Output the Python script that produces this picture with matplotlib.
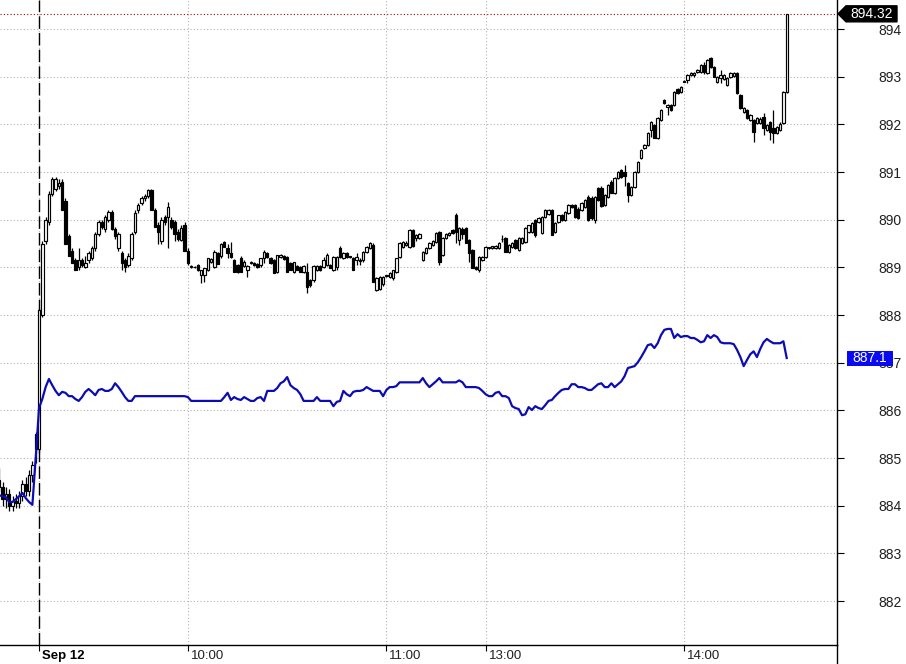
import numpy as np
import matplotlib
matplotlib.use("Agg")
import matplotlib.pyplot as plt
from matplotlib import transforms as mtrans
from matplotlib.patches import Polygon, Rectangle

plt.rcParams['font.family'] = ['Liberation Sans', 'DejaVu Sans']

# ---- data: one-minute bars (index = minute position on the session axis) ----
opens = [
    884.55, 884.40, 884.15, 884.25, 884.00, 884.10, 884.05, 884.20, 884.45, 884.30,
    884.65, 885.50, 885.20, 888.00, 889.55, 889.95, 890.55, 890.65, 890.70, 890.80,
    890.40, 889.65, 889.35, 889.15, 889.00, 889.15, 889.00, 889.15, 889.20, 889.40,
    889.70, 889.95, 889.80, 890.00, 890.16, 889.80, 889.40, 889.30, 889.15, 889.05,
    889.20, 889.75, 890.20, 890.35, 890.45, 890.50, 890.62, 890.20, 889.90, 889.55,
    890.05, 890.05, 890.00, 889.95, 889.75, 889.57, 889.90, 889.35, 889.00, 889.00,
    889.05, 888.84, 888.85, 888.94, 889.12, 889.00, 889.30, 889.25, 889.53, 889.40,
    889.30, 889.15, 889.05, 889.20, 889.02, 888.94, 889.09, 889.10, 889.08, 889.05,
    889.20, 889.30, 889.20, 889.15, 888.90, 889.22, 889.25, 889.22, 889.10, 888.90,
    889.03, 889.00, 888.90, 888.90, 888.73, 888.73, 888.94, 889.04, 889.00, 889.05,
    889.05, 888.94, 889.00, 889.41, 889.20, 889.30, 889.23, 889.20, 889.15, 889.15,
    889.15, 889.32, 889.41, 889.47, 888.52, 888.55, 888.65, 888.82, 888.80, 888.78,
    888.90, 889.22, 889.43, 889.47, 889.43, 889.78, 889.62, 889.62, 889.15, 889.30,
    889.41, 889.47, 889.53, 889.74, 889.26, 889.62, 889.68, 889.78, 890.10, 889.57,
    889.80, 889.83, 889.57, 889.36, 889.01, 888.94, 889.15, 889.22, 889.41, 889.41,
    889.40, 889.41, 889.60, 889.62, 889.32, 889.43, 889.57, 889.36, 889.51, 889.53,
    889.74, 889.74, 889.99, 889.95, 889.72, 890.06, 890.12, 890.20, 889.74, 889.95,
    890.09, 889.99, 890.14, 890.31, 890.31, 890.22, 890.20, 890.27, 890.48, 890.46,
    889.99, 890.66, 890.66, 890.31, 890.48, 890.79, 890.56, 890.87, 891.04, 891.00,
    890.77, 890.52, 890.69, 891.00, 891.29, 891.50, 891.57, 891.88, 891.99, 891.71,
    892.09, 892.51, 892.36, 892.41, 892.41, 892.74, 892.68, 892.90, 892.93, 893.04,
    893.03, 893.10, 893.10, 893.24, 893.08, 893.39, 893.20, 892.89, 892.97, 892.95,
    892.83, 893.00, 893.02, 893.08, 892.62, 892.26, 892.30, 892.09, 892.09, 892.03,
    892.03, 892.15, 891.88, 892.05, 891.92, 891.82, 891.88, 892.03, 892.68,
]
highs = [
    884.80, 884.50, 884.40, 884.35, 884.20, 884.25, 884.30, 884.55, 884.60, 884.75,
    884.95, 885.55, 888.15, 889.55, 890.05, 890.60, 890.90, 890.90, 890.85, 890.85,
    890.45, 889.70, 889.40, 889.20, 889.40, 889.20, 889.25, 889.35, 889.45, 889.75,
    890.00, 890.00, 890.10, 890.20, 890.20, 889.85, 889.75, 889.35, 889.20, 889.30,
    889.75, 890.20, 890.35, 890.50, 890.55, 890.65, 890.65, 890.25, 889.95, 890.05,
    890.10, 890.37, 890.05, 890.00, 889.80, 889.90, 889.95, 889.40, 889.05, 889.03,
    889.08, 888.95, 888.98, 889.20, 889.20, 889.36, 889.32, 889.52, 889.56, 889.50,
    889.53, 889.17, 889.08, 889.25, 889.15, 889.05, 889.13, 889.12, 889.10, 889.20,
    889.36, 889.32, 889.22, 889.18, 889.27, 889.28, 889.27, 889.24, 889.12, 889.12,
    889.05, 889.02, 889.05, 889.10, 888.76, 889.05, 889.06, 889.06, 889.22, 889.30,
    889.08, 889.24, 889.25, 889.45, 889.32, 889.33, 889.25, 889.22, 889.30, 889.20,
    889.34, 889.45, 889.53, 889.52, 888.80, 888.82, 888.82, 888.85, 888.90, 888.95,
    889.20, 889.53, 889.55, 889.55, 889.80, 889.80, 889.70, 889.72, 889.34, 889.43,
    889.53, 889.58, 889.75, 889.76, 889.64, 889.72, 889.75, 889.80, 890.14, 889.85,
    889.85, 889.85, 889.60, 889.38, 889.03, 889.24, 889.24, 889.45, 889.43, 889.46,
    889.47, 889.53, 889.68, 889.64, 889.49, 889.53, 889.60, 889.64, 889.64, 889.85,
    889.90, 889.95, 890.01, 890.05, 890.08, 890.22, 890.22, 890.22, 889.95, 890.11,
    890.12, 890.18, 890.33, 890.33, 890.33, 890.26, 890.37, 890.43, 890.52, 890.50,
    890.50, 890.68, 890.70, 890.54, 890.75, 890.83, 890.89, 891.02, 891.07, 891.15,
    890.79, 890.71, 891.02, 891.23, 891.48, 891.59, 891.84, 892.07, 892.01, 892.15,
    892.32, 892.53, 892.43, 892.43, 892.70, 892.76, 892.80, 892.93, 893.06, 893.10,
    893.09, 893.16, 893.26, 893.30, 893.37, 893.42, 893.22, 893.02, 893.14, 893.06,
    893.00, 893.10, 893.10, 893.10, 892.64, 892.36, 892.32, 892.22, 892.11, 892.15,
    892.15, 892.24, 892.00, 892.07, 892.30, 891.96, 892.05, 892.70, 894.32,
]
lows = [
    884.30, 884.00, 883.95, 883.90, 883.90, 883.95, 883.95, 884.10, 884.20, 884.20,
    884.50, 884.90, 885.10, 887.95, 889.50, 889.90, 890.50, 890.60, 890.65, 890.20,
    889.50, 889.25, 889.10, 888.95, 888.95, 889.00, 888.98, 889.10, 889.15, 889.35,
    889.65, 889.80, 889.75, 889.95, 889.78, 889.60, 889.35, 888.95, 888.90, 889.00,
    889.15, 889.70, 890.15, 890.30, 890.40, 890.45, 890.20, 889.85, 889.50, 889.50,
    889.90, 889.41, 889.80, 889.55, 889.55, 889.55, 889.35, 889.05, 888.98, 888.98,
    888.92, 888.68, 888.70, 888.92, 889.10, 888.98, 889.07, 889.20, 889.42, 889.20,
    889.20, 888.90, 888.88, 888.90, 889.00, 888.80, 889.07, 889.03, 888.98, 889.00,
    889.10, 889.20, 889.08, 888.88, 888.88, 889.20, 889.15, 888.90, 888.94, 888.88,
    888.94, 888.90, 888.88, 888.46, 888.60, 888.70, 888.92, 888.92, 888.98, 889.03,
    888.98, 888.92, 888.95, 889.20, 889.18, 889.20, 889.20, 888.94, 889.05, 889.05,
    889.12, 889.30, 889.39, 888.69, 888.50, 888.52, 888.62, 888.80, 888.78, 888.73,
    888.88, 889.20, 889.41, 889.45, 889.41, 889.43, 889.55, 889.60, 889.13, 889.28,
    889.39, 889.45, 889.51, 889.05, 889.24, 889.60, 889.66, 889.70, 889.51, 889.47,
    889.60, 889.51, 889.11, 888.99, 888.95, 888.90, 889.13, 889.20, 889.39, 889.39,
    889.38, 889.39, 889.53, 889.32, 889.30, 889.41, 889.39, 889.34, 889.49, 889.51,
    889.72, 889.72, 889.64, 889.93, 889.70, 890.04, 890.10, 889.68, 889.72, 889.93,
    889.97, 889.97, 890.12, 890.25, 890.04, 890.02, 890.18, 890.25, 889.97, 889.99,
    889.93, 890.39, 890.27, 890.29, 890.46, 890.56, 890.54, 890.85, 890.87, 890.70,
    890.37, 890.50, 890.67, 890.98, 891.27, 891.48, 891.55, 891.73, 891.71, 891.69,
    892.07, 892.43, 892.20, 892.28, 892.39, 892.64, 892.66, 892.89, 892.87, 893.02,
    893.00, 893.08, 893.08, 893.06, 893.06, 893.18, 892.99, 892.87, 892.87, 892.93,
    892.81, 892.98, 893.00, 892.64, 892.32, 892.24, 892.11, 892.07, 891.63, 892.00,
    892.01, 891.78, 891.86, 891.67, 891.61, 891.80, 891.86, 892.00, 892.66,
]
closes = [
    884.40, 884.15, 884.25, 884.00, 884.10, 884.05, 884.20, 884.45, 884.30, 884.65,
    884.85, 885.20, 888.10, 889.50, 890.00, 890.55, 890.85, 890.85, 890.78, 890.20,
    889.50, 889.25, 889.10, 888.95, 889.15, 889.05, 889.10, 889.30, 889.40, 889.70,
    889.95, 889.85, 890.05, 890.16, 889.80, 889.65, 889.70, 889.10, 889.00, 889.25,
    889.70, 890.15, 890.30, 890.45, 890.50, 890.62, 890.20, 889.85, 889.75, 890.00,
    889.95, 890.27, 889.85, 889.70, 889.60, 889.83, 889.35, 889.10, 889.02, 889.00,
    888.94, 888.94, 888.98, 889.19, 889.18, 889.32, 889.07, 889.50, 889.43, 889.30,
    889.22, 888.90, 888.90, 888.90, 889.12, 889.04, 889.12, 889.05, 889.00, 889.19,
    889.32, 889.22, 889.10, 888.88, 889.26, 889.26, 889.18, 888.90, 888.95, 889.11,
    888.95, 888.90, 889.03, 888.59, 888.63, 889.04, 889.04, 888.94, 889.15, 889.26,
    888.99, 889.22, 889.22, 889.22, 889.30, 889.22, 889.21, 888.94, 889.22, 889.14,
    889.32, 889.43, 889.51, 888.69, 888.78, 888.80, 888.80, 888.84, 888.88, 888.94,
    889.19, 889.51, 889.53, 889.52, 889.78, 889.45, 889.68, 889.70, 889.32, 889.41,
    889.51, 889.56, 889.72, 889.11, 889.62, 889.70, 889.73, 889.72, 889.74, 889.83,
    889.70, 889.51, 889.30, 888.99, 888.97, 889.22, 889.22, 889.43, 889.42, 889.45,
    889.44, 889.51, 889.60, 889.32, 889.47, 889.51, 889.41, 889.62, 889.62, 889.83,
    889.88, 889.93, 889.68, 890.03, 890.06, 890.20, 890.20, 889.68, 889.93, 890.09,
    889.99, 890.16, 890.31, 890.27, 890.06, 890.04, 890.35, 890.41, 889.99, 890.04,
    890.48, 890.41, 890.29, 890.52, 890.73, 890.56, 890.87, 891.00, 890.89, 890.92,
    890.52, 890.69, 891.00, 891.21, 891.46, 891.57, 891.82, 892.05, 891.71, 892.13,
    892.30, 892.45, 892.41, 892.30, 892.68, 892.66, 892.78, 892.91, 893.04, 893.08,
    893.07, 893.14, 893.24, 893.10, 893.35, 893.20, 893.00, 893.00, 893.04, 893.04,
    892.97, 893.08, 893.08, 892.66, 892.34, 892.34, 892.13, 892.20, 891.84, 892.13,
    892.12, 891.92, 891.98, 891.84, 891.82, 891.94, 892.00, 892.68, 894.32,
]
# comparison series (blue line), one value per minute
line_vals = [
    884.22, 884.20, 884.18, 884.08, 884.08, 884.14, 884.20, 884.27, 884.16, 884.08,
    884.02, 885.00, 886.05, 886.24, 886.49, 886.66, 886.53, 886.41, 886.32, 886.39,
    886.37, 886.30, 886.30, 886.24, 886.20, 886.28, 886.39, 886.45, 886.39, 886.32,
    886.43, 886.45, 886.41, 886.41, 886.45, 886.57, 886.49, 886.39, 886.28, 886.20,
    886.20, 886.30, 886.30, 886.30, 886.30, 886.30, 886.30, 886.30, 886.30, 886.30,
    886.30, 886.30, 886.30, 886.30, 886.30, 886.30, 886.30, 886.28, 886.20, 886.20,
    886.20, 886.20, 886.20, 886.20, 886.20, 886.20, 886.20, 886.20, 886.28, 886.37,
    886.22, 886.28, 886.24, 886.22, 886.28, 886.24, 886.20, 886.20, 886.26, 886.28,
    886.20, 886.41, 886.41, 886.41, 886.47, 886.57, 886.61, 886.70, 886.53, 886.47,
    886.43, 886.34, 886.20, 886.20, 886.20, 886.20, 886.28, 886.20, 886.20, 886.20,
    886.20, 886.09, 886.18, 886.20, 886.41, 886.34, 886.30, 886.39, 886.41, 886.41,
    886.43, 886.49, 886.45, 886.41, 886.41, 886.41, 886.30, 886.43, 886.49, 886.49,
    886.51, 886.59, 886.59, 886.59, 886.59, 886.59, 886.59, 886.59, 886.68, 886.57,
    886.49, 886.55, 886.61, 886.68, 886.59, 886.59, 886.59, 886.59, 886.59, 886.63,
    886.59, 886.49, 886.49, 886.49, 886.49, 886.47, 886.41, 886.34, 886.30, 886.30,
    886.37, 886.39, 886.30, 886.30, 886.26, 886.09, 886.05, 886.03, 885.90, 885.92,
    886.07, 886.01, 886.09, 886.05, 886.03, 886.11, 886.20, 886.22, 886.30, 886.37,
    886.43, 886.45, 886.45, 886.55, 886.55, 886.49, 886.49, 886.47, 886.43, 886.43,
    886.49, 886.55, 886.57, 886.49, 886.49, 886.57, 886.49, 886.55, 886.61, 886.72,
    886.89, 886.91, 886.93, 887.01, 887.12, 887.24, 887.37, 887.39, 887.31, 887.41,
    887.58, 887.69, 887.71, 887.71, 887.52, 887.60, 887.54, 887.56, 887.56, 887.52,
    887.52, 887.48, 887.43, 887.45, 887.58, 887.52, 887.58, 887.54, 887.43, 887.41,
    887.41, 887.41, 887.39, 887.27, 887.12, 886.93, 887.06, 887.18, 887.24, 887.12,
    887.29, 887.43, 887.50, 887.45, 887.41, 887.41, 887.41, 887.45, 887.10,
]
tick_pos = [12, 57, 117, 147, 207]
tick_labels = ['Sep 12', '10:00', '11:00', '13:00', '14:00']
day_break = 12
y_ticks = list(range(882, 895))

# ---- figure ----
W, H = 906, 664
fig = plt.figure(figsize=(W / 100, H / 100), dpi=100)
ax_left, ax_w, ax_bottom_px, ax_h = 0, 837, 19, 645
ax = fig.add_axes([ax_left / W, ax_bottom_px / H, ax_w / W, ax_h / H])

o = np.array(opens); h = np.array(highs); l = np.array(lows); c = np.array(closes)
x = np.arange(len(c))
up = c >= o

ax.vlines(x, l, h, color='black', lw=0.9, zorder=2)
ax.bar(x[up], c[up] - o[up], bottom=o[up], width=0.72, facecolor='white',
       edgecolor='black', linewidth=0.85, zorder=3)
ax.bar(x[~up], c[~up] - o[~up], bottom=o[~up], width=0.72, facecolor='black',
       edgecolor='black', linewidth=0.85, zorder=3)

ax.plot(x, line_vals, color='#0c0cb4', lw=1.6, zorder=4)

# day separator and last price line
ax.axvline(day_break, color='black', lw=1.0, dashes=(9, 3), zorder=1.8)
ax.axhline(c[-1], color='#b00000', lw=0.8, ls=(0, (1, 2)), zorder=1.8)

# grid / axes styling
ax.set_yticks(y_ticks)
ax.set_yticklabels([str(v) for v in y_ticks])
ax.set_xticks(tick_pos)
ax.set_xticklabels(tick_labels)
ax.grid(True, color='#b4b4b4', ls=(0, (1, 2)), lw=0.8, zorder=0)
ax.set_axisbelow(True)

for s in ['left', 'top']:
    ax.spines[s].set_visible(False)
for s in ['right', 'bottom']:
    ax.spines[s].set_color('black')
    ax.spines[s].set_linewidth(1.0)

ax.yaxis.tick_right()
ax.tick_params(axis='y', direction='out', length=5, width=0.8, pad=25,
               labelsize=10, labelcolor='#202020', color='black')
ax.tick_params(axis='x', direction='out', length=4, width=0.8, pad=0,
               labelsize=9.5, labelcolor='#202020', color='black')
offset = mtrans.ScaledTranslation(3 / 100, 1 / 100, fig.dpi_scale_trans)
for i, lab in enumerate(ax.get_xticklabels()):
    lab.set_horizontalalignment('left')
    lab.set_transform(lab.get_transform() + offset)
    if i == 0:
        lab.set_fontweight('bold')
        lab.set_color('black')

# right spine extends to figure bottom
ax.plot([1, 1], [0, -ax_bottom_px / ax_h], transform=ax.transAxes,
        color='black', lw=1.0, clip_on=False)

# limits
y_lo, y_hi = 881.08, 894.61
ax.set_xlim(0.21, 253.2)
ax.set_ylim(y_lo, y_hi)

# price tags at right
px = 1 / ax_w
pu = (y_hi - y_lo) / ax_h
blend = mtrans.blended_transform_factory(ax.transAxes, ax.transData)
last = c[-1]
verts = [(1 + 1 * px, last), (1 + 9 * px, last + 8 * pu), (1 + 60 * px, last + 8 * pu),
         (1 + 60 * px, last - 8 * pu), (1 + 9 * px, last - 8 * pu)]
ax.add_patch(Polygon(verts, closed=True, transform=blend, facecolor='black',
                     edgecolor='black', clip_on=False, zorder=10))
ax.text(1 + 35 * px, last, f'{last:.2f}', transform=blend, color='white',
        ha='center', va='center', fontsize=10, zorder=11, clip_on=False)

lv = line_vals[-1]
ax.add_patch(Rectangle((1 + 10 * px, lv - 7.5 * pu), 46 * px, 15 * pu, transform=blend,
                       facecolor='#0a0af0', edgecolor='none', clip_on=False, zorder=10))
ax.text(1 + 33 * px, lv, f'{lv:.1f}', transform=blend, color='white',
        ha='center', va='center', fontsize=10, zorder=11, clip_on=False)

ax.set_xlim(0.21, 253.2)
ax.set_ylim(y_lo, y_hi)

fig.savefig('out.png', dpi=100)
